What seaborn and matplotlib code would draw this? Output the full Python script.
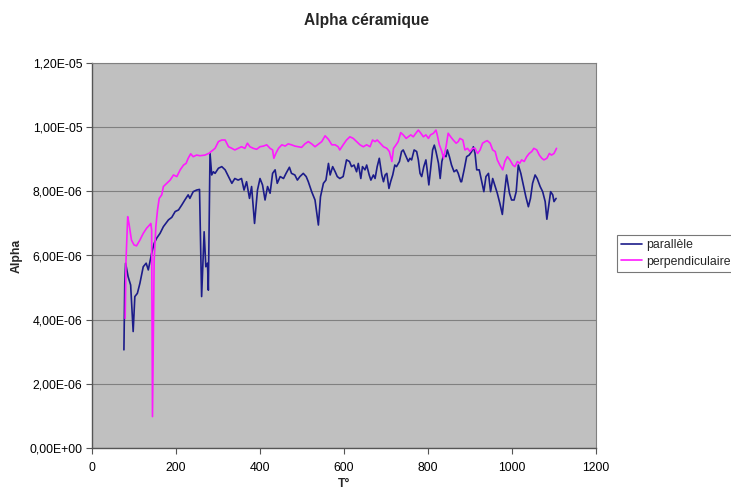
import numpy as np
import pandas as pd
import matplotlib
matplotlib.use("Agg")
import matplotlib.pyplot as plt
from matplotlib.ticker import FuncFormatter, MultipleLocator
import seaborn as sns

# ---------------- data (values in units of 1e-6) ----------------
t_par = [76, 78, 80, 86, 92, 98, 102, 108, 114, 122, 129, 134, 138, 142, 148, 154, 162, 170,
         182, 190, 198, 206, 214, 221, 229, 233, 241, 249, 256, 261, 267, 271, 275, 277, 281,
         285, 289, 293, 301, 309, 317, 325, 333, 340, 348, 356, 362, 368, 375, 380, 387, 394,
         400, 406, 412, 418, 424, 430, 436, 441, 448, 456, 462, 470, 475, 483, 489, 495, 503,
         510, 515, 523, 531, 539, 544, 551, 557, 563, 567, 573, 579, 584, 590, 598, 606, 613,
         618, 624, 630, 634, 640, 644, 650, 654, 660, 664, 670, 674, 679, 684, 690, 694, 698,
         702, 707, 711, 716, 721, 725, 732, 737, 741, 748, 753, 757, 761, 767, 773, 777, 781,
         785, 790, 795, 798, 802, 806, 811, 815, 819, 825, 829, 833, 837, 843, 846, 851, 856,
         862, 868, 872, 878, 880, 886, 892, 898, 904, 908, 912, 916, 922, 928, 933, 938, 944,
         949, 954, 960, 965, 971, 977, 982, 987, 994, 999, 1005, 1010, 1015, 1021, 1027, 1033,
         1039, 1044, 1049, 1055, 1060, 1067, 1073, 1079, 1083, 1087, 1092, 1097, 1100, 1105]
a_par = [3.06, 5.13, 5.76, 5.34, 5.08, 3.63, 4.72, 4.82, 5.13, 5.65, 5.76, 5.55, 5.81, 6.07,
         6.38, 6.54, 6.69, 6.90, 7.11, 7.19, 7.37, 7.42, 7.58, 7.73, 7.89, 7.78, 7.99, 8.04,
         8.06, 4.72, 6.74, 5.65, 5.76, 4.92, 9.19, 8.51, 8.61, 8.56, 8.72, 8.77, 8.67, 8.46,
         8.25, 8.40, 8.35, 8.40, 8.04, 8.30, 7.78, 8.15, 7.00, 8.04, 8.40, 8.20, 7.73, 8.15,
         7.94, 8.56, 8.67, 8.25, 8.46, 8.40, 8.56, 8.75, 8.56, 8.51, 8.35, 8.46, 8.56, 8.46,
         8.30, 7.99, 7.73, 6.95, 7.83, 8.25, 8.35, 8.87, 8.51, 8.77, 8.61, 8.46, 8.40, 8.46,
         8.98, 8.93, 8.77, 8.82, 8.61, 8.87, 8.40, 8.77, 8.67, 8.82, 8.51, 8.35, 8.51, 8.40,
         8.77, 9.03, 8.51, 8.30, 8.51, 8.56, 8.09, 8.30, 8.51, 8.82, 8.77, 8.93, 9.24, 9.29,
         9.08, 8.93, 9.03, 8.98, 9.29, 9.24, 8.98, 8.56, 8.46, 8.77, 8.98, 8.67, 8.20, 8.67,
         9.29, 9.44, 9.24, 8.87, 8.40, 8.93, 9.13, 9.08, 9.29, 9.08, 8.82, 8.61, 8.67, 8.56,
         8.30, 8.30, 8.67, 9.08, 9.13, 9.24, 9.39, 9.18, 8.67, 8.67, 8.30, 7.99, 8.46, 8.56,
         7.99, 8.40, 8.15, 7.94, 7.63, 7.28, 7.94, 8.51, 7.94, 7.73, 7.73, 7.99, 8.82, 8.56,
         8.20, 7.83, 7.52, 7.78, 8.25, 8.51, 8.40, 8.15, 7.99, 7.68, 7.13, 7.52, 7.99, 7.89,
         7.68, 7.78]

t_perp = [79, 81, 85, 88, 94, 100, 106, 114, 122, 130, 137, 140, 142, 144, 148, 152, 156, 160,
          166, 170, 178, 186, 194, 202, 210, 218, 224, 229, 235, 241, 249, 257, 269, 279, 293,
          301, 309, 317, 325, 333, 340, 348, 356, 364, 370, 376, 384, 392, 400, 408, 416, 424,
          430, 433, 438, 444, 452, 460, 467, 475, 483, 491, 499, 507, 515, 523, 531, 539, 547,
          555, 563, 571, 579, 586, 590, 598, 606, 614, 622, 630, 638, 646, 654, 662, 668, 674,
          679, 686, 694, 702, 708, 714, 718, 724, 729, 735, 741, 748, 753, 759, 765, 771, 777,
          783, 789, 795, 801, 806, 813, 819, 822, 827, 833, 837, 843, 848, 854, 860, 867, 872,
          876, 883, 888, 894, 900, 906, 912, 918, 924, 930, 936, 941, 948, 954, 960, 965, 971,
          978, 983, 989, 995, 1002, 1007, 1013, 1018, 1023, 1029, 1035, 1041, 1047, 1052, 1059,
          1065, 1071, 1076, 1083, 1089, 1094, 1100, 1106]
a_perp = [4.04, 5.86, 7.21, 7.00, 6.48, 6.33, 6.30, 6.48, 6.69, 6.85, 6.95, 7.00, 6.80, 0.98,
          5.86, 6.90, 7.42, 7.78, 7.89, 8.15, 8.25, 8.35, 8.51, 8.46, 8.67, 8.82, 8.87, 9.03,
          9.17, 9.08, 9.13, 9.11, 9.13, 9.19, 9.34, 9.55, 9.60, 9.60, 9.39, 9.34, 9.29, 9.34,
          9.39, 9.34, 9.50, 9.39, 9.34, 9.31, 9.39, 9.41, 9.45, 9.34, 9.29, 9.03, 9.19, 9.34,
          9.45, 9.41, 9.48, 9.45, 9.41, 9.39, 9.37, 9.48, 9.55, 9.48, 9.39, 9.47, 9.55, 9.73,
          9.62, 9.45, 9.45, 9.39, 9.29, 9.45, 9.60, 9.70, 9.65, 9.55, 9.45, 9.39, 9.45, 9.39,
          9.60, 9.55, 9.60, 9.50, 9.39, 9.34, 9.24, 8.93, 9.34, 9.45, 9.55, 9.83, 9.76, 9.65,
          9.70, 9.76, 9.70, 9.81, 9.91, 9.81, 9.70, 9.76, 9.65, 9.76, 9.81, 9.91, 9.76, 9.45,
          9.24, 9.03, 9.39, 9.81, 9.70, 9.60, 9.50, 9.55, 9.65, 9.60, 9.29, 9.34, 9.24, 9.34,
          9.34, 9.18, 9.29, 9.50, 9.55, 9.58, 9.50, 9.29, 9.24, 8.98, 8.82, 8.67, 8.93, 9.08,
          8.98, 8.82, 8.77, 8.93, 8.87, 8.98, 8.93, 9.08, 9.18, 9.24, 9.34, 9.29, 9.13, 9.03,
          8.98, 9.03, 9.18, 9.13, 9.18, 9.34]

series_names = ["parallèle", "perpendiculaire"]
series_colors = ["#1C1C8A", "#FF1AFF"]
x_ticks = [0, 200, 400, 600, 800, 1000, 1200]
title = "Alpha céramique"
x_label = "T°"
y_label = "Alpha"

# ---------------- build long table ----------------
df = pd.concat([
    pd.DataFrame({"T": t_par, "Alpha": np.array(a_par) * 1e-6, "serie": series_names[0]}),
    pd.DataFrame({"T": t_perp, "Alpha": np.array(a_perp) * 1e-6, "serie": series_names[1]}),
], ignore_index=True)

sns.set_style("white")
plt.rcParams["font.family"] = ["Liberation Sans", "DejaVu Sans"]

fig = plt.figure(figsize=(7.31, 4.90), dpi=100)
ax = fig.add_axes([92 / 731, 1 - 448 / 490, (596 - 92) / 731, (448 - 63) / 490])
ax.set_facecolor("#C0C0C0")

sns.lineplot(data=df, x="T", y="Alpha", hue="serie", palette=dict(zip(series_names, series_colors)),
             hue_order=series_names, sort=False, estimator=None, linewidth=1.2, ax=ax, legend=False)

ax.set_xlim(0, 1200)
ax.set_ylim(0, 1.2e-5)
ax.set_xticks(x_ticks)
ax.yaxis.set_major_locator(MultipleLocator(2e-6))
ax.yaxis.set_major_formatter(FuncFormatter(lambda v, p: f"{v:.2E}".replace(".", ",")))
ax.grid(axis="y", color="#808080", linewidth=0.8)
ax.grid(axis="x", visible=False)
ax.set_axisbelow(True)

for s in ["top", "right"]:
    ax.spines[s].set_color("#808080")
    ax.spines[s].set_linewidth(0.8)
for s in ["left", "bottom"]:
    ax.spines[s].set_color("#555555")
    ax.spines[s].set_linewidth(1.0)

ax.tick_params(axis="both", direction="out", length=4, width=0.8, color="#555555",
               labelsize=8.8, labelcolor="black", pad=3, bottom=True, left=True)
ax.tick_params(axis="x", pad=6)

ax.set_xlabel(x_label, fontsize=8.8, fontweight="bold", labelpad=3)
ax.set_ylabel(y_label, fontsize=8.8, fontweight="bold", labelpad=5)

fig.text(367 / 731, 1 - 20 / 490, title, ha="center", va="center", fontsize=11.2, fontweight="bold")

handles = [plt.Line2D([], [], color=c, lw=1.2) for c in series_colors]
leg = fig.legend(handles, series_names, loc="upper left", bbox_to_anchor=(617 / 731, 1 - 235 / 490),
                 fontsize=8.8, frameon=True, fancybox=False, handlelength=1.7, handletextpad=0.3,
                 borderpad=0.35, labelspacing=0.35, borderaxespad=0)
leg.get_frame().set_edgecolor("#555555")
leg.get_frame().set_linewidth(0.8)

fig.savefig("out.png", dpi=100)
